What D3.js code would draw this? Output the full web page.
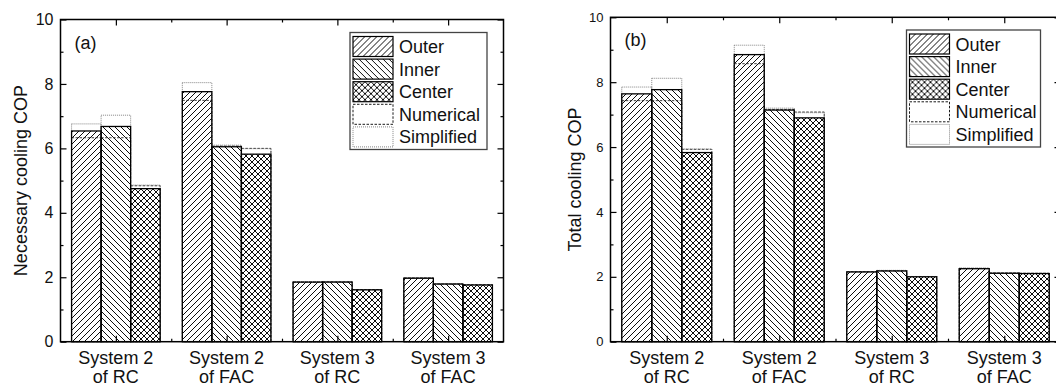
<!DOCTYPE html>
<html>
<head>
<meta charset="utf-8">
<script src="https://cdn.jsdelivr.net/npm/d3@7"></script>
<style>
  body { margin: 0; background: #fff; overflow: hidden; }
  text { font-family: "Liberation Sans", Arial, sans-serif; fill: #111; }
</style>
</head>
<body>
<svg id="chart" width="1056" height="387"></svg>
<script>
const categories = [["System 2", "of RC"], ["System 2", "of FAC"], ["System 3", "of RC"], ["System 3", "of FAC"]];
const seriesNames = ["Outer", "Inner", "Center"];
const legendNames = ["Outer", "Inner", "Center", "Numerical", "Simplified"];
const yTicks = [0, 2, 4, 6, 8, 10];
const yMinorTicks = [1, 3, 5, 7, 9];

// (a) necessary cooling COP - rows are categories, columns Outer / Inner / Center
const necessaryBars = [[6.54, 6.68, 4.75], [7.76, 6.05, 5.82], [1.85, 1.85, 1.61], [1.97, 1.79, 1.76]];
const necessaryNumerical = [[6.33, 6.33, 4.84], [7.49, 6.07, 6.00], [1.85, 1.86, 1.62], [1.98, 1.79, 1.77]];
const necessarySimplified = [[6.76, 7.03, 4.86], [8.04, 6.10, 5.99], [1.86, 1.87, 1.61], [1.99, 1.80, 1.77]];

// (b) total cooling COP
const totalBars = [[7.64, 7.77, 5.83], [8.85, 7.14, 6.90], [2.15, 2.18, 2.00], [2.25, 2.11, 2.10]];
const totalNumerical = [[7.43, 7.43, 5.93], [8.57, 7.16, 7.08], [2.16, 2.19, 2.01], [2.26, 2.12, 2.11]];
const totalSimplified = [[7.85, 8.12, 5.94], [9.14, 7.20, 7.06], [2.16, 2.20, 2.01], [2.27, 2.12, 2.11]];

const svg = d3.select("#chart");

// hatch patterns
const defs = svg.append("defs");
const hatch = { Outer: "M0,6L6,0M-1,1L1,-1M5,7L7,5", Inner: "M0,0L6,6M-1,5L1,7M5,-1L7,1" };
hatch.Center = hatch.Outer + hatch.Inner;
seriesNames.forEach(s => {
  const p = defs.append("pattern")
    .attr("id", "pat-" + s)
    .attr("patternUnits", "userSpaceOnUse")
    .attr("width", 6).attr("height", 6);
  p.append("rect").attr("width", 6).attr("height", 6).attr("fill", "#fff");
  p.append("path").attr("d", hatch[s]).attr("stroke", "#000").attr("stroke-width", 0.95).attr("fill", "none");
});

function drawPanel(cfg) {
  const g = svg.append("g");
  const x = d3.scaleBand().domain(d3.range(categories.length)).range([cfg.left, cfg.right]);
  const xs = d3.scaleBand().domain(seriesNames).range([x.bandwidth() * 0.1, x.bandwidth() * 0.9]);
  const y = d3.scaleLinear().domain([0, 10]).range([cfg.bottom, cfg.top]);
  const xl = d3.scaleLinear().domain([0, categories.length]).range([cfg.left, cfg.right]);

  const data = categories.flatMap((c, i) => seriesNames.map((s, j) => ({
    i, s, v: cfg.bars[i][j], num: cfg.num[i][j], sim: cfg.sim[i][j]
  })));

  const bx = d => x(d.i) + xs(d.s);

  g.append("g").selectAll("rect").data(data).join("rect")
    .attr("x", bx).attr("width", xs.bandwidth())
    .attr("y", d => y(d.v)).attr("height", d => y(0) - y(d.v))
    .attr("fill", d => `url(#pat-${d.s})`);

  // numerical (dashed) and simplified (dotted) outlines
  g.append("g").selectAll("rect").data(data).join("rect")
    .attr("x", bx).attr("width", xs.bandwidth())
    .attr("y", d => y(d.num)).attr("height", d => y(0) - y(d.num))
    .attr("fill", "none").attr("stroke", "#222").attr("stroke-width", 0.9)
    .attr("stroke-dasharray", "2.5,1.5");
  g.append("g").selectAll("rect").data(data).join("rect")
    .attr("x", bx).attr("width", xs.bandwidth())
    .attr("y", d => y(d.sim)).attr("height", d => y(0) - y(d.sim))
    .attr("fill", "none").attr("stroke", "#777").attr("stroke-width", 0.9)
    .attr("stroke-dasharray", "1,1");

  g.append("g").selectAll("rect").data(data).join("rect")
    .attr("x", bx).attr("width", xs.bandwidth())
    .attr("y", d => y(d.v)).attr("height", d => y(0) - y(d.v))
    .attr("fill", "none").attr("stroke", "#000").attr("stroke-width", 1.3);

  // axes
  const left = g.append("g").attr("transform", `translate(${cfg.left},0)`)
    .call(d3.axisLeft(y).tickValues(yTicks).tickSize(-6).tickPadding(7));
  left.selectAll("text").style("font-size", cfg.tickFont + "px");
  g.append("g").attr("transform", `translate(${cfg.left},0)`)
    .call(d3.axisLeft(y).tickValues(yMinorTicks).tickSize(-3).tickFormat(""));
  g.append("g").attr("transform", `translate(${cfg.right},0)`)
    .call(d3.axisRight(y).tickValues(yTicks).tickSize(-6).tickFormat(""));
  g.append("g").attr("transform", `translate(${cfg.right},0)`)
    .call(d3.axisRight(y).tickValues(yMinorTicks).tickSize(-3).tickFormat(""));

  const major = d3.range(categories.length).map(i => i + 0.5);
  const minor = d3.range(1, categories.length);
  g.append("g").attr("transform", `translate(0,${cfg.top})`)
    .call(d3.axisTop(xl).tickValues(major).tickSize(-6).tickFormat(""));
  g.append("g").attr("transform", `translate(0,${cfg.top})`)
    .call(d3.axisTop(xl).tickValues(minor).tickSize(-3).tickFormat(""));
  g.append("g").attr("transform", `translate(0,${cfg.bottom})`)
    .call(d3.axisBottom(xl).tickValues(major).tickSize(-6).tickFormat(""));
  g.append("g").attr("transform", `translate(0,${cfg.bottom})`)
    .call(d3.axisBottom(xl).tickValues(minor).tickSize(-3).tickFormat(""));

  g.selectAll(".domain").remove();
  g.selectAll(".tick line").attr("stroke", "#000").attr("stroke-width", 1.2);

  g.append("rect")
    .attr("x", cfg.left).attr("y", cfg.top)
    .attr("width", cfg.right - cfg.left).attr("height", cfg.bottom - cfg.top)
    .attr("fill", "none").attr("stroke", "#000").attr("stroke-width", 1.5);

  // category labels, two lines
  const cl = g.append("g").selectAll("text").data(categories).join("text")
    .attr("text-anchor", "middle").style("font-size", "18px");
  cl.append("tspan").attr("x", (d, i) => x(i) + x.bandwidth() / 2).attr("y", cfg.bottom + 22.5).text(d => d[0]);
  cl.append("tspan").attr("x", (d, i) => x(i) + x.bandwidth() / 2).attr("y", cfg.bottom + 41).text(d => d[1]);

  g.append("text")
    .attr("transform", `translate(${cfg.yLabelX},${(cfg.top + cfg.bottom) / 2}) rotate(-90)`)
    .attr("text-anchor", "middle").style("font-size", "18px")
    .text(cfg.yLabel);

  g.append("text").attr("x", cfg.left + 14).attr("y", cfg.top + 29)
    .style("font-size", "18px").text(cfg.tag);

  // legend
  const lg = g.append("g").attr("transform", `translate(${cfg.legendX},${cfg.legendY})`);
  lg.append("rect").attr("width", cfg.legendW).attr("height", 117)
    .attr("fill", "#fff").attr("stroke", "#444").attr("stroke-width", 1.3);
  const item = lg.selectAll("g").data(legendNames).join("g")
    .attr("transform", (d, i) => `translate(3,${4 + i * 22.6})`);
  item.append("rect").attr("width", 40).attr("height", 20)
    .attr("fill", d => seriesNames.includes(d) ? `url(#pat-${d})` : "none")
    .attr("stroke", d => d === "Simplified" ? "#777" : "#000")
    .attr("stroke-width", d => seriesNames.includes(d) ? 1.2 : 0.9)
    .attr("stroke-dasharray", d => d === "Numerical" ? "2.5,1.5" : d === "Simplified" ? "1,1" : null);
  item.append("text").attr("x", 46).attr("y", 16.5)
    .style("font-size", "18px").text(d => d);
}

drawPanel({
  left: 60.5, right: 503.5, top: 19.5, bottom: 341.7,
  bars: necessaryBars, num: necessaryNumerical, sim: necessarySimplified,
  tickFont: 16, yLabel: "Necessary cooling COP", yLabelX: 27, tag: "(a)",
  legendX: 350, legendY: 32.5, legendW: 137
});

drawPanel({
  left: 610.5, right: 1060.5, top: 17.3, bottom: 341.7,
  bars: totalBars, num: totalNumerical, sim: totalSimplified,
  tickFont: 13, yLabel: "Total cooling COP", yLabelX: 581, tag: "(b)",
  legendX: 906.5, legendY: 30, legendW: 134
});
</script>
</body>
</html>
